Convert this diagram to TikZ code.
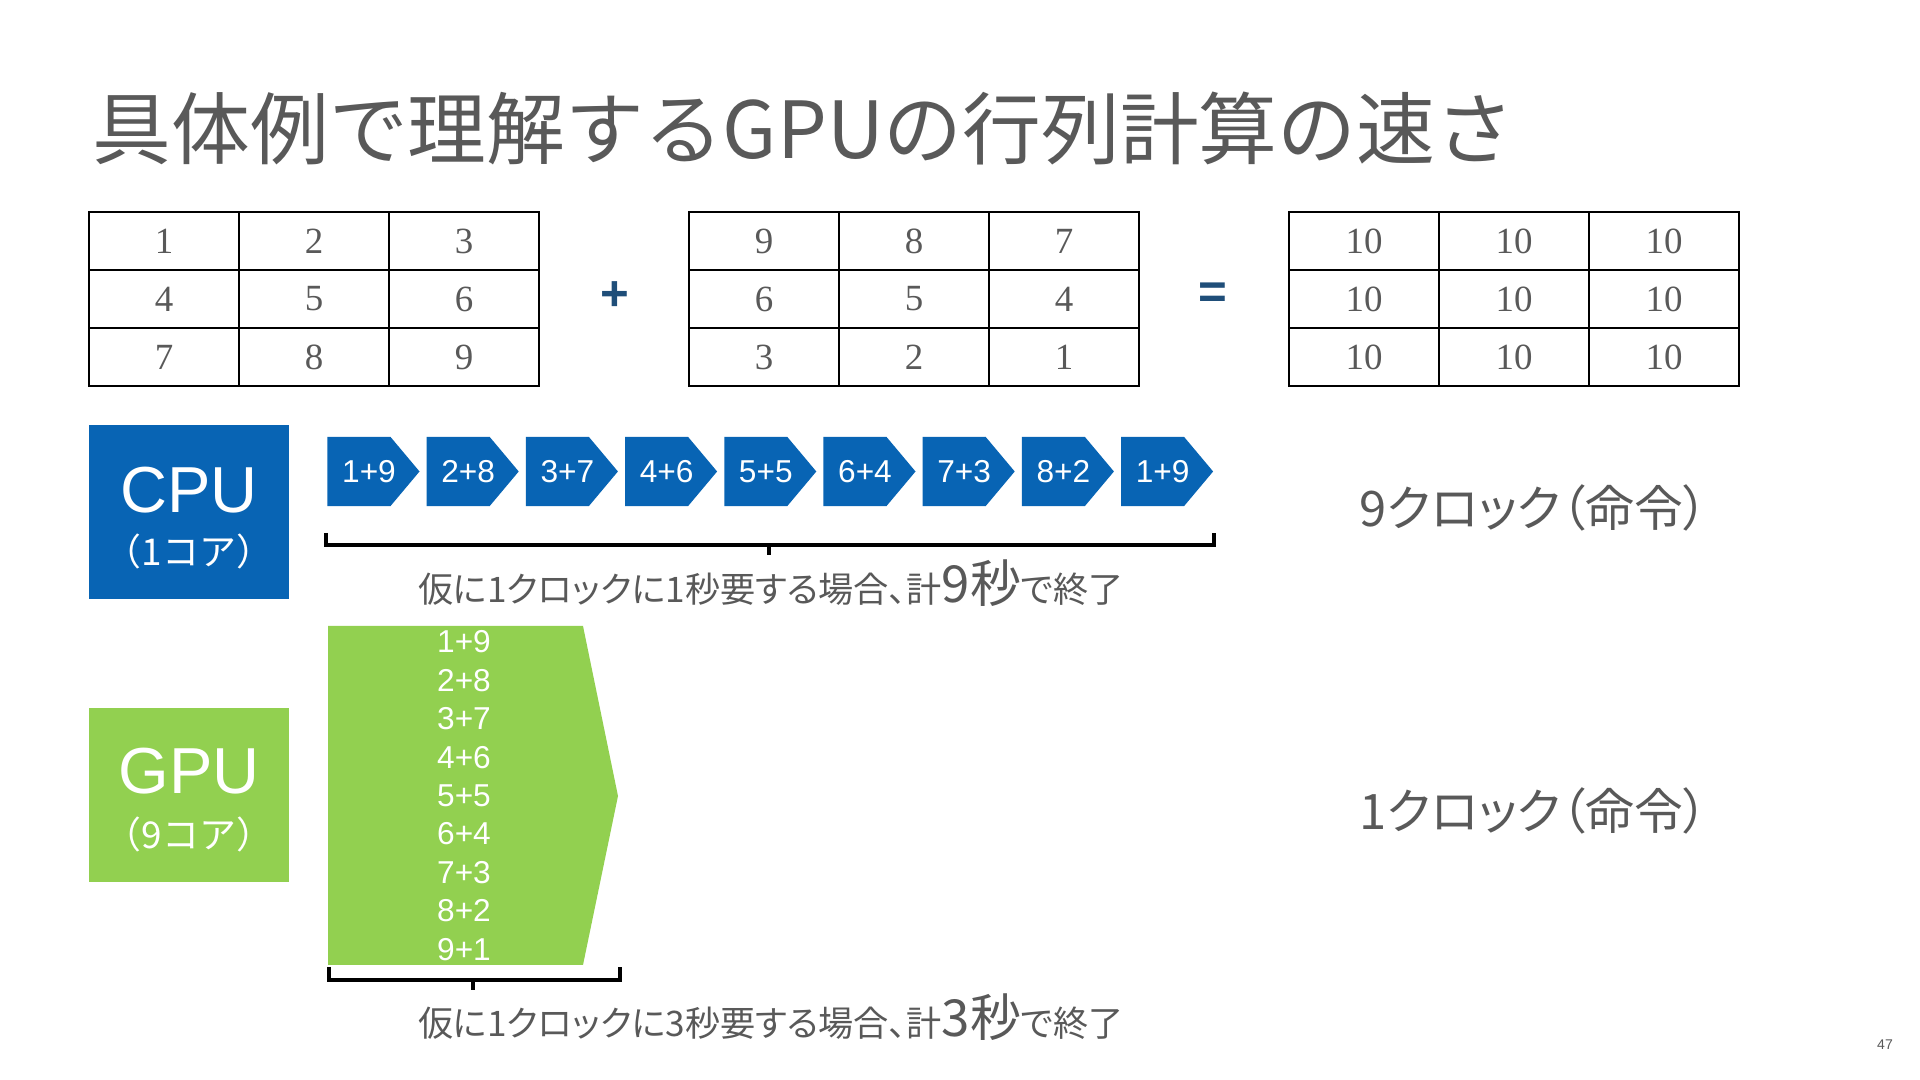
\documentclass[tikz,border=0pt]{standalone}
\usepackage{fontspec}
\setmainfont{Liberation Serif}
\newfontfamily\jpfont{Noto Sans CJK JP}
\newfontfamily\jppfont[RawFeature=+palt]{Noto Sans CJK JP}
\newfontfamily\arialfont{Liberation Sans}
\usetikzlibrary{shapes.symbols}
\definecolor{cpublue}{RGB}{8,100,180}
\definecolor{gpugreen}{RGB}{146,208,80}
\definecolor{textgray}{RGB}{89,89,89}
\definecolor{opblue}{RGB}{31,78,121}
\tikzset{
  cell/.style={draw=black, line width=0.6pt, minimum width=1.5cm, minimum height=0.58cm,
    inner sep=0pt, text=textgray, font=\fontsize{10.5}{11}\selectfont},
  cpustep/.style={signal, signal to=east, signal pointer angle=100, fill=cpublue,
    minimum width=0.92cm, minimum height=0.69cm, inner sep=0pt},
  steptext/.style={text=white, inner sep=0pt, xshift=0.1cm, font=\arialfont\fontsize{9}{10}\selectfont},
  gpuline/.style={text=white, inner sep=0pt, font=\arialfont\fontsize{9}{10}\selectfont},
  unitbox/.style={minimum width=2cm, minimum height=1.74cm, inner sep=0pt},
  bracket/.style={line width=1.1pt, black},
  note/.style={text=textgray, inner sep=0pt, font=\jppfont\fontsize{10}{11}\selectfont},
  clock/.style={text=textgray, inner sep=0pt, font=\jppfont\fontsize{13.9}{15}\selectfont},
  op/.style={text=opblue, inner sep=0pt, font=\arialfont\bfseries\fontsize{14}{15}\selectfont}
}
\begin{document}
\begin{tikzpicture}[x=0.01cm, y=-0.01cm]
    \useasboundingbox[fill=white] (0,0) rectangle (1920,1080);
    % タイトル
    \node[anchor=west, text=textgray, inner sep=0pt, font=\jpfont\fontsize{22.4}{26}\selectfont] (title) at (92,129)
        {具体例で理解するGPUの行列計算の速さ};

    % 行列
    \foreach \m/\x/\vals in {a/89/{1,2,3,4,5,6,7,8,9}, b/689/{9,8,7,6,5,4,3,2,1}, c/1289/{10,10,10,10,10,10,10,10,10}} {
        \foreach \v [count=\k from 0] in \vals {
            \pgfmathtruncatemacro{\r}{div(\k,3)}
            \pgfmathtruncatemacro{\c}{mod(\k,3)}
            \node[cell] (\m\r\c) at (\x+75+150*\c, 241+58*\r) {\v};
        }
    }
    \node[op] (plus) at (615,296) {+};
    \node[op] (equal) at (1213,296) {=};

    % CPU
    \node[unitbox, fill=cpublue] (cpu) at (189,512) {};
    \node[text=white, inner sep=0pt, font=\arialfont\fontsize{18.5}{20}\selectfont] (cpuname) at (189,490) {CPU};
    \node[text=white, inner sep=0pt, font=\jpfont\fontsize{10.5}{12}\selectfont] (cpucore) at (189,551) {（1コア）};
    \foreach \t [count=\i] in {1+9,2+8,3+7,4+6,5+5,6+4,7+3,8+2,1+9}
        \node[cpustep, label={[steptext]center:\t}] (step\i) at (359+99.2*\i-99.2, 471.5) {};
    \draw[bracket] (326,533) -- (326,545) -- (1214,545) -- (1214,533);
    \draw[bracket] (769,545) -- (769,555);
    \node[note, anchor=base] (cpunote) at (771,603)
        {仮に1クロックに1秒要する場合、計{\fontsize{14.5}{16}\selectfont 9秒}で終了};
    \node[clock, anchor=west] (cpuclock) at (1359,508) {9クロック（命令）};

    % GPU
    \node[unitbox, fill=gpugreen] (gpu) at (189,795) {};
    \node[text=white, inner sep=0pt, font=\arialfont\fontsize{18.5}{20}\selectfont] (gpuname) at (189,771) {GPU};
    \node[text=white, inner sep=0pt, font=\jpfont\fontsize{10.5}{12}\selectfont] (gpucore) at (189,834) {（9コア）};
    \fill[gpugreen] (328,626) -- (583,626) -- (618,796) -- (583,965) -- (328,965) -- cycle;
    \foreach \t [count=\i] in {1+9,2+8,3+7,4+6,5+5,6+4,7+3,8+2,9+1}
        \node[gpuline] (sum\i) at (464, 642+38.4*\i-38.4) {\t};
    \draw[bracket] (329,967) -- (329,980) -- (620,980) -- (620,967);
    \draw[bracket] (473,980) -- (473,990);
    \node[note, anchor=base] (gpunote) at (771,1037)
        {仮に1クロックに3秒要する場合、計{\fontsize{14.5}{16}\selectfont 3秒}で終了};
    \node[clock, anchor=west] (gpuclock) at (1359,811) {1クロック（命令）};

    \node[text=textgray, inner sep=0pt, font=\arialfont\fontsize{4}{5}\selectfont] (page) at (1885,1045) {47};
\end{tikzpicture}
\end{document}
